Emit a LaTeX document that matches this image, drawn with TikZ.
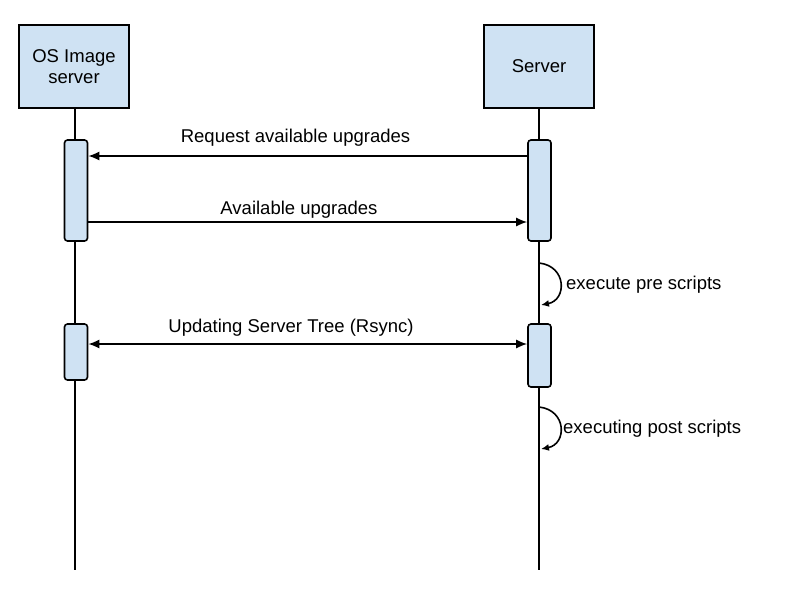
\documentclass[tikz,border=0pt]{standalone}
\usepackage{fontspec}
\setmainfont{Liberation Sans}
\usetikzlibrary{arrows.meta}
\definecolor{boxfill}{HTML}{CFE2F3}
\tikzset{
  actor/.style={draw=black, line width=1.8pt, fill=boxfill, minimum width=110pt, minimum height=83pt, inner sep=0pt, align=center, font=\fontsize{18.5}{21}\selectfont},
  act/.style={draw=black, line width=1.6pt, fill=boxfill, rounded corners=3pt, minimum width=23pt, inner sep=0pt},
  life/.style={line width=1.6pt},
  msg/.style={line width=1.6pt, -{Latex[length=11pt,width=9pt]}},
  dmsg/.style={line width=1.6pt, {Latex[length=11pt,width=9pt]}-{Latex[length=11pt,width=9pt]}},
  self/.style={line width=1.6pt, -{Latex[length=8pt,width=7pt]}},
  lbl/.style={font=\fontsize{18.5}{21}\selectfont, inner sep=0pt, anchor=base},
  slbl/.style={font=\fontsize{18.5}{21}\selectfont, inner sep=0pt, anchor=base west}
}
\begin{document}
\begin{tikzpicture}[x=1pt,y=-1pt]
\useasboundingbox (0,0) rectangle (800,600);
\fill[white] (0,0) rectangle (800,600);
\node[actor] (osimg) at (74,66.5) {OS Image\\server};
\node[actor] (srv) at (539,66.5) {Server};
\coordinate (lend) at (75,570);
\coordinate (rend) at (539,570);
\draw[life] (osimg.south -| lend) -- (lend);
\draw[life] (srv.south) -- (rend);
\node[act, minimum height=101pt] (l1) at (76,190.5) {};
\node[act, minimum height=101pt] (r1) at (539.5,190.5) {};
\node[act, minimum height=56pt] (l2) at (76,352) {};
\node[act, minimum height=63pt] (r2) at (539.5,355.5) {};
% messages
\draw[msg] (r1.west |- 0,156) -- (l1.east |- 0,156);
\node[lbl] (m1) at (295.5,142) {Request available upgrades};
\draw[msg] (l1.east |- 0,222) -- (r1.west |- 0,222);
\node[lbl] (m2) at (299,214) {Available upgrades};
\draw[dmsg] (l2.east |- 0,344) -- (r2.west |- 0,344);
\node[lbl] (m3) at (291,332) {Updating Server Tree (Rsync)};
% self calls
\coordinate (s1a) at (539,263);
\coordinate (s1b) at (541,305);
\draw[self] (s1a) .. controls (567,266) and (567,300) .. (s1b);
\node[slbl] (t1) at (566,289) {execute pre scripts};
\coordinate (s2a) at (539,407);
\coordinate (s2b) at (541,449);
\draw[self] (s2a) .. controls (567,410) and (567,444) .. (s2b);
\node[slbl] (t2) at (563,433) {executing post scripts};
\end{tikzpicture}
\end{document}
